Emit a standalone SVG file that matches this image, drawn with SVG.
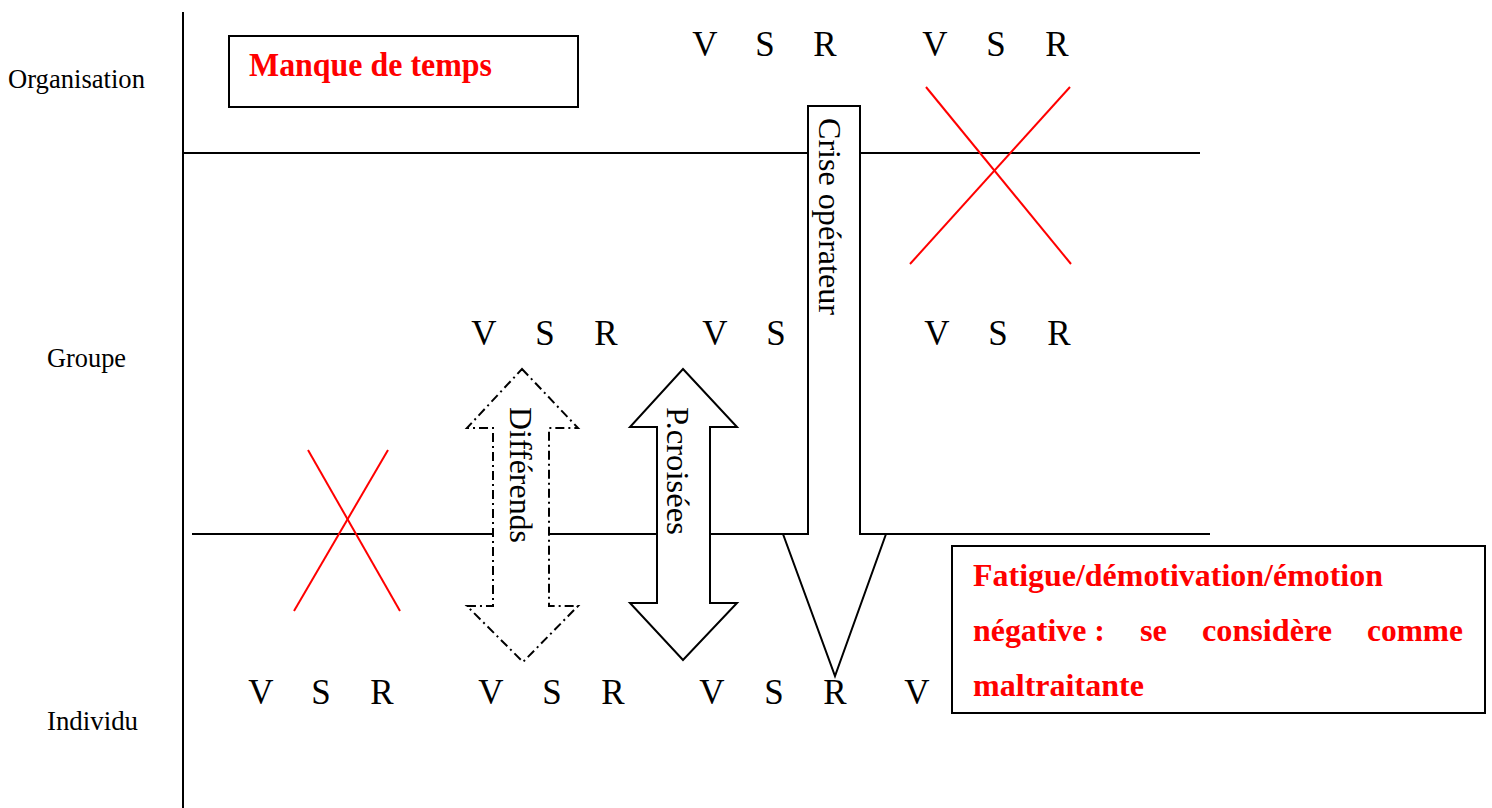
<svg xmlns="http://www.w3.org/2000/svg" width="1492" height="808" viewBox="0 0 1492 808">
<style>
.lbl{font-family:"Liberation Serif",serif;font-size:26.5px;fill:#000}
.vsr{font-family:"Liberation Serif",serif;font-size:35px;fill:#000;text-anchor:middle}
.red{font-family:"Liberation Serif",serif;font-weight:bold;fill:#ff0000}
.rot{font-family:"Liberation Serif",serif;font-size:32px;fill:#000}
.ln{stroke:#000;stroke-width:2;fill:none}
.x{stroke:#ff0000;stroke-width:2}
.arrow{fill:#fff;stroke:#000;stroke-width:2;stroke-linejoin:miter}
</style>
<rect width="1492" height="808" fill="#fff"/>
<g id="axes">
<line class="ln" x1="183" y1="12" x2="183" y2="808"/>
<line class="ln" x1="183" y1="153" x2="1200" y2="153"/>
<line class="ln" x1="192" y1="534" x2="1210" y2="534"/>
</g>
<g id="levels">
<text class="lbl" x="8" y="88" textLength="137" lengthAdjust="spacingAndGlyphs">Organisation</text>
<text class="lbl" x="47" y="367" textLength="79" lengthAdjust="spacingAndGlyphs">Groupe</text>
<text class="lbl" x="47" y="730" textLength="91" lengthAdjust="spacingAndGlyphs">Individu</text>
</g>
<g id="vsr-organisation">
<text class="vsr" x="705" y="56">V</text><text class="vsr" x="765" y="56">S</text><text class="vsr" x="825" y="56">R</text>
<text class="vsr" x="935" y="56">V</text><text class="vsr" x="996" y="56">S</text><text class="vsr" x="1057" y="56">R</text>
</g>
<g id="vsr-groupe">
<text class="vsr" x="484" y="345">V</text><text class="vsr" x="545" y="345">S</text><text class="vsr" x="606" y="345">R</text>
<text class="vsr" x="715" y="345">V</text><text class="vsr" x="776" y="345">S</text>
<text class="vsr" x="937" y="345">V</text><text class="vsr" x="998" y="345">S</text><text class="vsr" x="1059" y="345">R</text>
</g>
<g id="vsr-individu">
<text class="vsr" x="261" y="704">V</text><text class="vsr" x="321" y="704">S</text><text class="vsr" x="382" y="704">R</text>
<text class="vsr" x="491" y="704">V</text><text class="vsr" x="552" y="704">S</text><text class="vsr" x="613" y="704">R</text>
<text class="vsr" x="712" y="704">V</text><text class="vsr" x="774" y="704">S</text><text class="vsr" x="835" y="704">R</text>
<text class="vsr" x="917" y="704">V</text>
</g>
<g id="manque">
<rect class="ln" x="229" y="36" width="349" height="71"/>
<text class="red" x="249" y="76" font-size="33" textLength="243" lengthAdjust="spacingAndGlyphs">Manque de temps</text>
</g>
<g id="cross-top">
<line class="x" x1="926" y1="87" x2="1071" y2="264"/>
<line class="x" x1="1070" y1="87" x2="910" y2="264"/>
</g>
<g id="cross-bottom">
<line class="x" x1="308" y1="450" x2="400" y2="611"/>
<line class="x" x1="388" y1="450" x2="294" y2="611"/>
</g>
<g id="differends">
<path class="arrow" stroke-dasharray="9,4,2,4" d="M522,369 L578,428 L549,428 L549,606 L578,606 L523,662 L467,606 L493,606 L493,428 L467,428 Z"/>
<text class="rot" transform="translate(510,407) rotate(90)" textLength="136" lengthAdjust="spacingAndGlyphs">Différends</text>
</g>
<g id="pcroisees">
<path class="arrow" d="M683,369 L737,427 L710,427 L710,603 L737,603 L683,660 L630,603 L657,603 L657,427 L630,427 Z"/>
<text class="rot" transform="translate(667,407) rotate(90)" textLength="128" lengthAdjust="spacingAndGlyphs">P.croisées</text>
</g>
<g id="crise">
<path class="arrow" d="M808,534 L808,106 L860,106 L860,534 L886,534 L835,676 L783,534 Z"/>
<text class="rot" font-size="28" transform="translate(819,118) rotate(90)" textLength="197" lengthAdjust="spacingAndGlyphs">Crise opérateur</text>
</g>
<g id="fatigue">
<rect class="ln" x="952" y="546" width="533" height="167"/>
<text class="red" font-size="31" x="973" y="586" textLength="410" lengthAdjust="spacingAndGlyphs">Fatigue/démotivation/émotion</text>
<text class="red" font-size="31" x="973" y="641" textLength="132" lengthAdjust="spacingAndGlyphs">négative :</text>
<text class="red" font-size="31" x="1140" y="641" textLength="27" lengthAdjust="spacingAndGlyphs">se</text>
<text class="red" font-size="31" x="1202" y="641" textLength="130" lengthAdjust="spacingAndGlyphs">considère</text>
<text class="red" font-size="31" x="1367" y="641" textLength="96" lengthAdjust="spacingAndGlyphs">comme</text>
<text class="red" font-size="31" x="973" y="696" textLength="171" lengthAdjust="spacingAndGlyphs">maltraitante</text>
</g>
</svg>
